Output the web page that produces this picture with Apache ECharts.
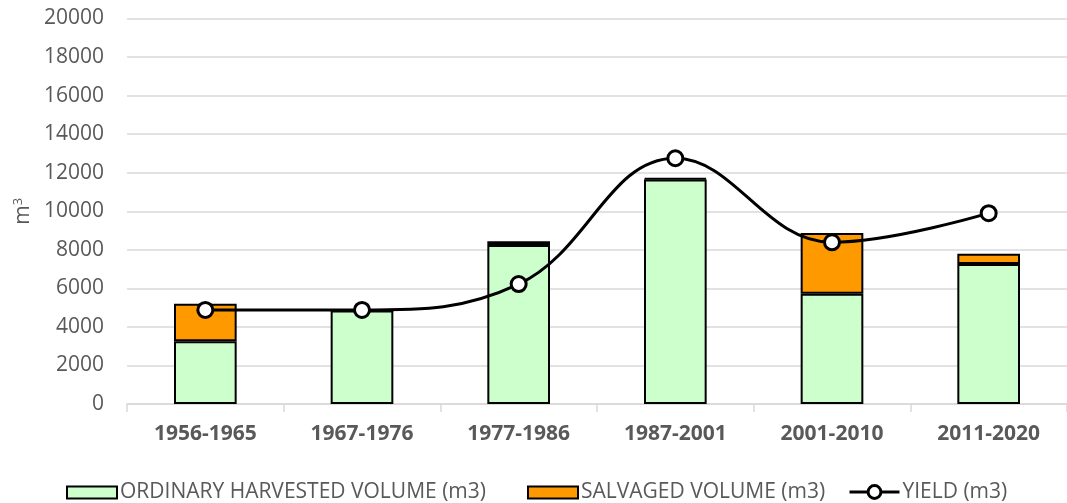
<!DOCTYPE html>
<html>
<head>
<meta charset="utf-8">
<title>Harvested volume by period</title>
<script src="https://cdn.jsdelivr.net/npm/echarts@6/dist/echarts.min.js"></script>
<style>
  html, body { margin: 0; padding: 0; background: #ffffff; }
  #chart { width: 1067px; height: 503px; }
</style>
</head>
<body>
<div id="chart"></div>
<script>
// Periods on the category axis
const periods = ['1956-1965', '1967-1976', '1977-1986', '1987-2001', '2001-2010', '2011-2020'];
// Stacked volumes (m3)
const ordinaryVolume = [3250, 4850, 8250, 11650, 5720, 7260];
const salvagedVolume = [1950, 0, 200, 60, 3150, 540];
// Yield curve (m3)
const yieldVolume = [4880, 4880, 6220, 12750, 8390, 9900];
// Value axis ticks
const yTicks = [0, 2000, 4000, 6000, 8000, 10000, 12000, 14000, 16000, 18000, 20000];

const FONT = 'Open Sans';
const TEXT = '#595959';

const NAME_ORD = 'ORDINARY HARVESTED VOLUME (m3)';
const NAME_SALV = 'SALVAGED VOLUME (m3)';
const NAME_YIELD = 'YIELD (m3)';

// one legend block per entry so each sits at its own x
function legendAt(left, name, extra) {
  return Object.assign({
    top: 477,
    left: left,
    itemWidth: 50,
    itemHeight: 12,
    itemGap: 0,
    textStyle: { fontFamily: FONT, fontSize: 21, color: TEXT, padding: [0, 0, 0, -2] },
    data: [{ name: name }]
  }, extra || {});
}

const chart = echarts.init(document.getElementById('chart'), null, { renderer: 'canvas' });

chart.setOption({
  animation: false,
  backgroundColor: '#ffffff',
  grid: { left: 127, right: 0, top: 18.5, bottom: 99, containLabel: false },
  legend: [
    legendAt(61, NAME_ORD, { icon: 'rect', itemStyle: { borderColor: '#000000', borderWidth: 2 } }),
    legendAt(522, NAME_SALV, { icon: 'rect', itemStyle: { borderColor: '#000000', borderWidth: 2 } }),
    legendAt(843, NAME_YIELD, {
      top: 476.5,
      itemHeight: 16,
      lineStyle: { color: '#000000', width: 3 },
      itemStyle: { color: '#ffffff', borderColor: '#000000', borderWidth: 3 }
    })
  ],
  xAxis: {
    type: 'category',
    data: periods,
    axisLine: { show: true, lineStyle: { color: '#d9d9d9', width: 1.5 } },
    axisTick: { show: true, alignWithLabel: false, length: 8, lineStyle: { color: '#d9d9d9', width: 1.5 } },
    axisLabel: { fontFamily: FONT, fontWeight: 'bold', fontSize: 21, color: TEXT, margin: 20 }
  },
  yAxis: {
    type: 'value',
    min: yTicks[0],
    max: yTicks[yTicks.length - 1],
    interval: yTicks[1] - yTicks[0],
    name: '{m|m}{s|3}',
    nameLocation: 'middle',
    nameGap: 92,
    nameRotate: 90,
    nameTextStyle: {
      rich: {
        m: { fontFamily: FONT, fontSize: 21, color: TEXT },
        s: { fontFamily: FONT, fontSize: 13, color: TEXT, verticalAlign: 'top', padding: [0, 0, 9, 0] }
      }
    },
    axisLine: { show: false },
    axisTick: { show: false },
    splitLine: { show: true, lineStyle: { color: '#d9d9d9', width: 1.5 } },
    axisLabel: {
      fontFamily: FONT, fontSize: 21, color: TEXT, margin: 23,
      formatter: function (v) { return String(v); }
    }
  },
  series: [
    {
      name: NAME_ORD,
      type: 'bar',
      stack: 'volume',
      barWidth: '40%',
      data: ordinaryVolume,
      itemStyle: { color: '#ccffcc', borderColor: '#000000', borderWidth: 2 }
    },
    {
      name: NAME_SALV,
      type: 'bar',
      stack: 'volume',
      barWidth: '40%',
      data: salvagedVolume,
      itemStyle: { color: '#ff9900', borderColor: '#000000', borderWidth: 2 }
    },
    {
      name: NAME_YIELD,
      type: 'line',
      data: yieldVolume,
      smooth: 0.4,
      z: 5,
      symbol: 'circle',
      symbolSize: 15,
      lineStyle: { color: '#000000', width: 3 },
      itemStyle: { color: '#ffffff', borderColor: '#000000', borderWidth: 3 }
    }
  ]
});
</script>
</body>
</html>
